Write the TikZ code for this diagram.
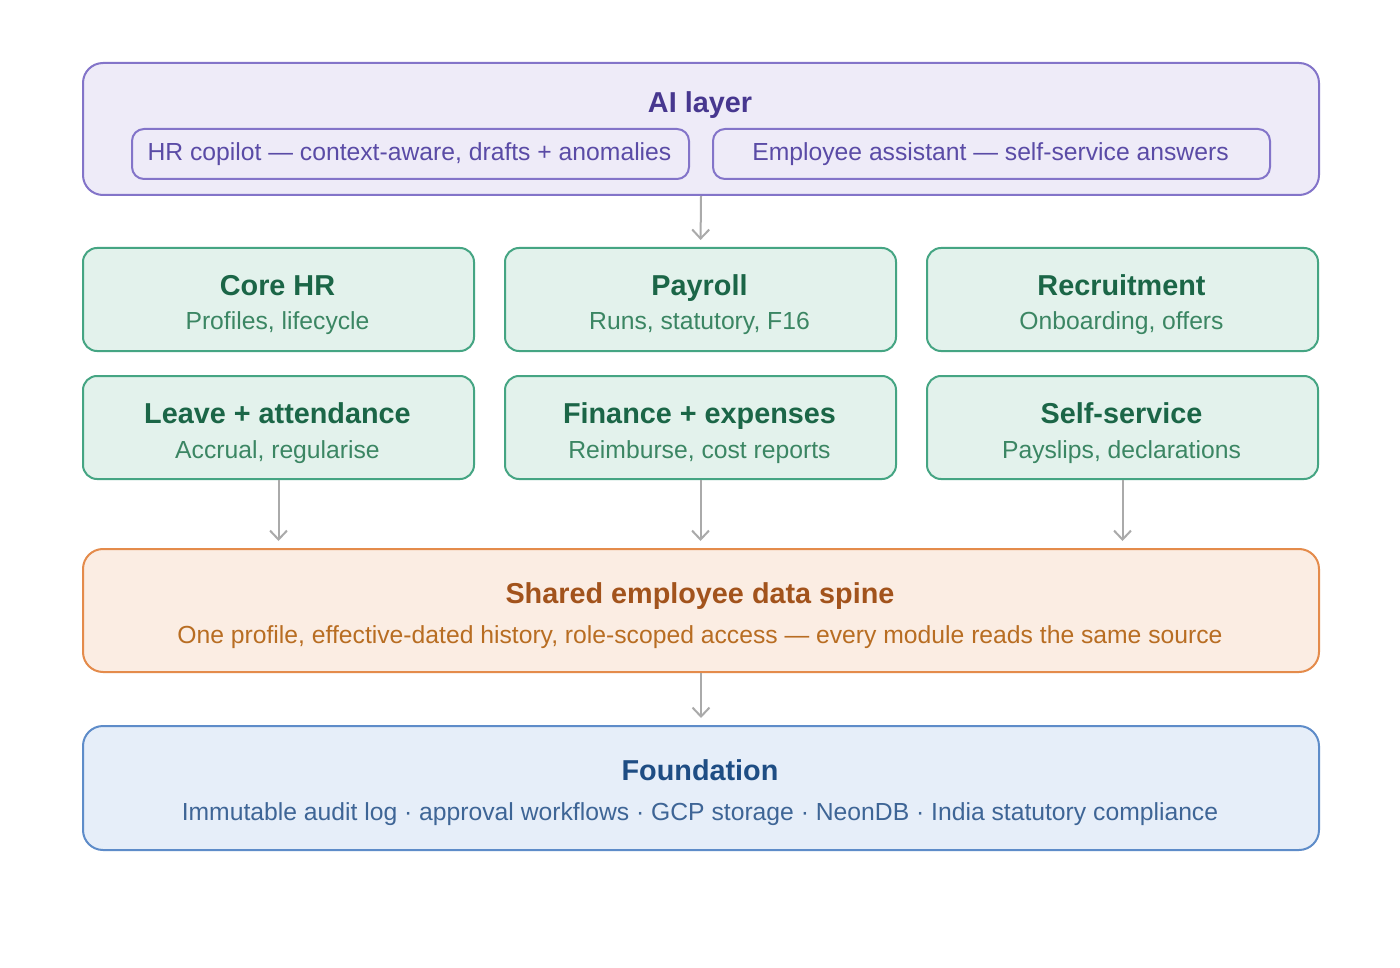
\documentclass[tikz,border=0pt]{standalone}
\usepackage{fontspec}
\setmainfont{Liberation Sans}
\usetikzlibrary{arrows.meta,calc}
\definecolor{pStroke}{HTML}{8374C9}
\definecolor{pFill}{HTML}{EEEBF8}
\definecolor{pTitle}{HTML}{47378F}
\definecolor{pText}{HTML}{5A4BA6}
\definecolor{gStroke}{HTML}{45A583}
\definecolor{gFill}{HTML}{E3F2EC}
\definecolor{gTitle}{HTML}{1B6647}
\definecolor{gText}{HTML}{3B8663}
\definecolor{oStroke}{HTML}{E48B4B}
\definecolor{oFill}{HTML}{FBEDE3}
\definecolor{oTitle}{HTML}{A2531C}
\definecolor{oText}{HTML}{B86D22}
\definecolor{bStroke}{HTML}{5E8CC9}
\definecolor{bFill}{HTML}{E6EEF9}
\definecolor{bTitle}{HTML}{1E4D84}
\definecolor{bText}{HTML}{3E6596}
\definecolor{arrGray}{HTML}{AAAAAA}
\tikzset{
  box/.style={draw, line width=2pt, rounded corners=#1, inner sep=0pt, anchor=north west},
  box/.default=14pt,
  ttl/.style={anchor=base, font=\fontsize{28.8}{32}\selectfont\bfseries, inner sep=0pt},
  sub/.style={anchor=base, font=\fontsize{24.7}{28}\selectfont, inner sep=0pt},
  arr/.style={draw=arrGray, line width=2pt, -{Straight Barb[length=9pt,width=17pt,line width=2pt]}, shorten >=7pt},
}
\begin{document}
\begin{tikzpicture}[x=1pt,y=-1pt]
\useasboundingbox[fill=white] (0,0) rectangle (1400,968);
% AI layer
\node[box=20pt, draw=pStroke, fill=pFill, minimum width=1236pt, minimum height=132pt] (ai) at (82,62) {};
\node[ttl, text=pTitle] (aiT) at (700,113) {AI layer};
\node[box=12pt, draw=pStroke, fill=pFill, minimum width=557pt, minimum height=50pt] (cop) at (131,128) {};
\node[sub, text=pText] (copT) at (409.5,161) {HR copilot — context-aware, drafts + anomalies};
\node[box=12pt, draw=pStroke, fill=pFill, minimum width=557pt, minimum height=50pt] (emp) at (712,128) {};
\node[sub, text=pText] (empT) at (990.5,161) {Employee assistant — self-service answers};
% modules
\foreach \n/\x/\y/\t/\s in {core/82/247/Core HR/{Profiles, lifecycle},
  pay/504/247/Payroll/{Runs, statutory, F16},
  rec/926/247/Recruitment/{Onboarding, offers},
  leave/82/375/Leave + attendance/{Accrual, regularise},
  fin/504/375/Finance + expenses/{Reimburse, cost reports},
  self/926/375/Self-service/{Payslips, declarations}}{
  \node[box=14pt, draw=gStroke, fill=gFill, minimum width=391pt, minimum height=103pt] (\n) at (\x,\y) {};
  \node[ttl, text=gTitle] (\n T) at ($(\x,\y)+(195.5,48)$) {\t};
  \node[sub, text=gText] (\n S) at ($(\x,\y)+(195.5,83)$) {\s};
}
% spine
\node[box=20pt, draw=oStroke, fill=oFill, minimum width=1236pt, minimum height=123pt] (spine) at (82,548) {};
\node[ttl, text=oTitle] (spineT) at (700,603) {Shared employee data spine};
\node[sub, text=oText] (spineS) at (700,643) {One profile, effective-dated history, role-scoped access — every module reads the same source};
% foundation
\node[box=20pt, draw=bStroke, fill=bFill, minimum width=1236pt, minimum height=124pt] (fnd) at (82,725) {};
\node[ttl, text=bTitle] (fndT) at (700,780) {Foundation};
\node[sub, text=bText] (fndS) at (700,820) {Immutable audit log · approval workflows · GCP storage · NeonDB · India statutory compliance};
% arrows
\draw[arr] (ai.south) -- (pay.north);
\draw[arr] (leave.south) -- (leave.south |- spine.north);
\draw[arr] (fin.south) -- (fin.south |- spine.north);
\draw[arr] (self.south) -- (self.south |- spine.north);
\draw[arr] (spine.south) -- (fnd.north);
\end{tikzpicture}
\end{document}
